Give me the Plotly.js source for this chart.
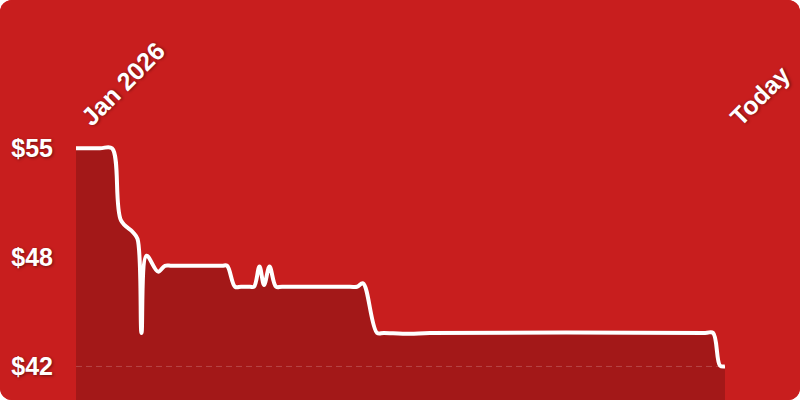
<!DOCTYPE html>
<html>
<head>
<meta charset="utf-8">
<script src="https://cdn.plot.ly/plotly-3.0.1.min.js"></script>
<style>
  html, body { margin: 0; padding: 0; background: #fff; }
  #card { width: 800px; height: 400px; border-radius: 12px; overflow: hidden; background: #c81e1e; }
</style>
</head>
<body>
<div id="card"></div>
<script>
// days since Jan 1 2026, and price on that day
const days = [0, 1.63, 2.44, 3.05, 3.86, 4.17, 4.44, 4.78, 5.56, 6.03, 6.51, 9.90, 10.24,
  10.78, 11.19, 11.80, 12.07, 12.44, 12.75, 13.12, 13.56, 13.97, 18.58, 19.05, 19.46,
  20.41, 20.88, 22.64, 24.0, 42.65, 43.19, 43.66, 44];
const prices = [55, 55, 55, 50.7, 50.0, 49.6, 44.0, 48.6, 47.65, 48.0, 48.0, 48.0, 48.0,
  46.75, 46.75, 46.75, 46.75, 47.95, 46.85, 47.95, 46.75, 46.75, 46.75, 46.75, 46.95,
  44.0, 44.0, 43.95, 44.0, 44.0, 44.0, 42.05, 42.0];
const xTickVals = [0, 44];
const xTickText = ['Jan 2026', 'Today'];
const yTickVals = [55, 48.5, 42];
const yTickText = ['$55', '$48', '$42'];

const bg = '#c81e1e';
const labelFont = {
  family: 'Liberation Sans, Arial, sans-serif', size: 25, color: '#fff',
  weight: 'bold', shadow: '1px 1px 3px rgba(0,0,0,0.45)'
};

Plotly.newPlot('card', [{
  x: days,
  y: prices,
  type: 'scatter',
  mode: 'lines',
  line: { color: '#fff', width: 4, shape: 'spline', smoothing: 1 },
  fill: 'tozeroy',
  fillcolor: '#a31818',
  hoverinfo: 'skip'
}], {
  width: 800,
  height: 400,
  margin: { l: 76, r: 75, t: 130, b: 0 },
  paper_bgcolor: bg,
  plot_bgcolor: bg,
  showlegend: false,
  xaxis: {
    side: 'top',
    range: [0, 44],
    tickvals: xTickVals,
    ticktext: xTickText,
    tickangle: -45,
    tickfont: labelFont,
    ticklabelstandoff: -7,
    ticklabelshift: 7,
    showgrid: false,
    zeroline: false,
    showline: false,
    ticks: ''
  },
  yaxis: {
    range: [40, 56.09],
    tickvals: yTickVals,
    ticktext: yTickText,
    tickfont: labelFont,
    showgrid: false,
    zeroline: false,
    showline: false,
    ticks: '',
    ticklabelstandoff: 22
  },
  shapes: [{
    type: 'line', xref: 'paper', x0: 0, x1: 1, yref: 'y', y0: 42, y1: 42,
    line: { color: 'rgba(255,255,255,0.2)', width: 1, dash: '6px,4px' }
  }]
}, { displayModeBar: false, staticPlot: true });
</script>
</body>
</html>
